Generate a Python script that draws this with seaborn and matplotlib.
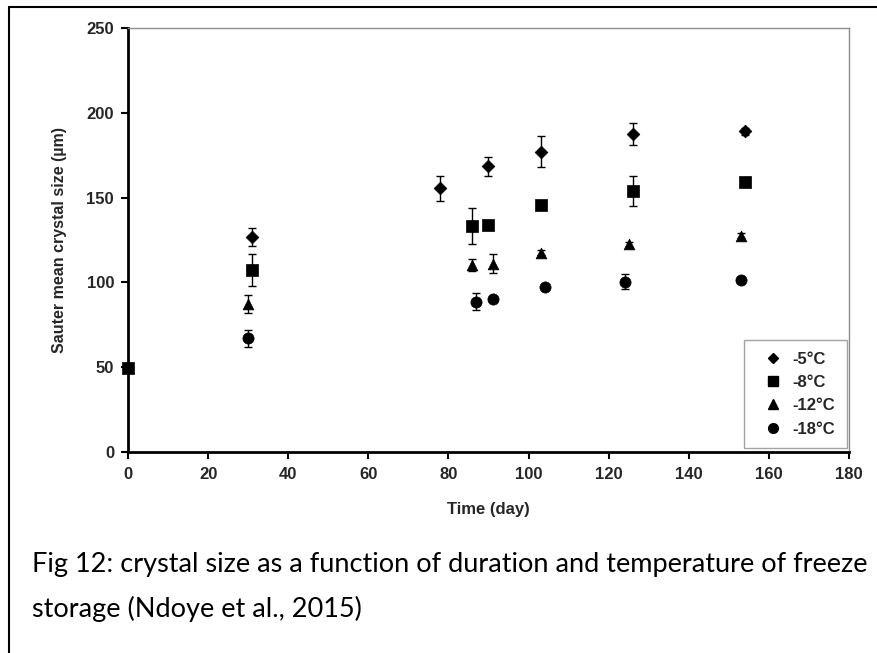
import pandas as pd
import numpy as np
import seaborn as sns
import matplotlib.pyplot as plt
from matplotlib.lines import Line2D

# values (day, size in um, error bar half-height)
temps = ['-5°C', '-8°C', '-12°C', '-18°C']

days_5 = [31, 78, 90, 103, 126, 154]
size_5 = [127, 155.5, 168.5, 177, 187.5, 189]
err_5 = [5.3, 7.5, 5.5, 9.2, 6.7, 2]

days_8 = [0, 31, 86, 90, 103, 126, 154]
size_8 = [49.5, 107.5, 133, 134, 145.5, 154, 159]
err_8 = [0, 9.4, 10.6, 2, 0, 9, 0]

days_12 = [30, 86, 91, 103, 125, 153]
size_12 = [87, 110.5, 111, 117.5, 122.5, 127.5]
err_12 = [5.3, 3.5, 5.5, 1.5, 1.5, 1.5]

days_18 = [30, 87, 91, 104, 124, 153]
size_18 = [67, 88.5, 90, 97, 100.5, 101.5]
err_18 = [5, 5, 1.5, 0, 4.3, 1.5]

x_ticks = [0, 20, 40, 60, 80, 100, 120, 140, 160, 180]
y_ticks = [0, 50, 100, 150, 200, 250]

caption_1 = 'Fig 12: crystal size as a function of duration and temperature of freeze'
caption_2 = 'storage (Ndoye et al., 2015)'

frames = []
for t, d, s, e in zip(temps, [days_5, days_8, days_12, days_18],
                      [size_5, size_8, size_12, size_18],
                      [err_5, err_8, err_12, err_18]):
    frames.append(pd.DataFrame({'day': d, 'size': s, 'err': e, 'temp': t}))
df = pd.concat(frames, ignore_index=True)

markers = {'-5°C': 'D', '-8°C': 's', '-12°C': '^', '-18°C': 'o'}
msize = {'-5°C': 42, '-8°C': 65, '-12°C': 60, '-18°C': 65}

sns.set_style('white')
plt.rcParams['font.family'] = ['Liberation Sans', 'DejaVu Sans']

fig = plt.figure(figsize=(8.78, 6.53), dpi=100)
ax = fig.add_axes([128/878, 1-452/653, (849-128)/878, 424/653])

# error bars first, markers on top
for t in temps:
    sub = df[df.temp == t]
    ax.errorbar(sub['day'], sub['size'], yerr=sub['err'], fmt='none',
                ecolor='black', elinewidth=1, capsize=3, capthick=1, zorder=2)

for t in temps:
    sub = df[df.temp == t]
    sns.scatterplot(data=sub, x='day', y='size', marker=markers[t], s=msize[t],
                    color='black', edgecolor='black', linewidth=0.5, ax=ax,
                    zorder=3, legend=False, clip_on=False)

ax.set_xlim(0, 180)
ax.set_ylim(0, 250)
ax.set_xticks(x_ticks)
ax.set_yticks(y_ticks)
ax.set_xticklabels([str(v) for v in x_ticks], fontweight='bold', fontsize=12)
ax.set_yticklabels([str(v) for v in y_ticks], fontweight='bold', fontsize=12)
ax.tick_params(axis='both', which='major', direction='out', length=5, width=1.5,
               color='black', bottom=True, left=True)
ax.tick_params(axis='x', pad=6)
ax.tick_params(axis='y', pad=5)

for side in ['left', 'bottom']:
    ax.spines[side].set_color('black')
    ax.spines[side].set_linewidth(2)
for side in ['top', 'right']:
    ax.spines[side].set_color('#8c8c8c')
    ax.spines[side].set_linewidth(1)

ax.set_xlabel('Time (day)', fontweight='bold', fontsize=12, labelpad=14)
ax.set_ylabel('Sauter mean crystal size (µm)', fontweight='bold', fontsize=11.5,
              labelpad=14)

handles = [Line2D([], [], marker=markers[t], color='black', linestyle='none',
                  markersize=7 if t != '-5°C' else 5.5) for t in temps]
leg = ax.legend(handles, temps, loc='lower right', bbox_to_anchor=(0.997, 0.009),
                frameon=True, fancybox=False, edgecolor='#8c8c8c',
                prop={'weight': 'bold', 'size': 12}, handletextpad=0.1,
                handlelength=2.1, labelspacing=0.5, borderpad=0.7,
                borderaxespad=0)
leg.get_frame().set_linewidth(1)

fig.text(32/878, 1-572/653, caption_1, fontsize=19.5, family=['Lato', 'DejaVu Sans'],
         va='baseline', ha='left', color='black')
fig.text(32/878, 1-617/653, caption_2, fontsize=19.5, family=['Lato', 'DejaVu Sans'],
         va='baseline', ha='left', color='black')

# page frame (left and top border of the source image)
fig.add_artist(Line2D([9/878, 9/878], [0, 1-7/653], color='black', linewidth=1.5,
                      transform=fig.transFigure))
fig.add_artist(Line2D([9/878, 1], [1-7/653, 1-7/653], color='black', linewidth=1.5,
                      transform=fig.transFigure))

fig.savefig('out.png', dpi=100)
